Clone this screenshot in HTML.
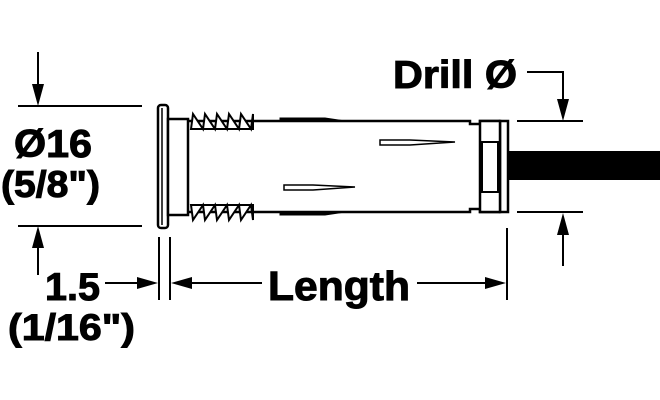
<!DOCTYPE html>
<html><head><style>body{margin:0;background:#fff}svg{display:block}</style></head>
<body>
<svg width="660" height="400" viewBox="0 0 660 400" xmlns="http://www.w3.org/2000/svg">
<g stroke="#000" fill="none" stroke-width="2">
<line x1="18" y1="106" x2="142" y2="106"/>
<line x1="18" y1="226" x2="142" y2="226"/>
<line x1="38" y1="52" x2="38" y2="85"/>
<line x1="38" y1="248" x2="38" y2="275"/>
<line x1="517" y1="121" x2="583" y2="121"/>
<line x1="517" y1="212" x2="583" y2="212"/>
<polyline points="527,72 563,72 563,100"/>
<line x1="563" y1="235" x2="563" y2="266"/>
<line x1="159" y1="237" x2="159" y2="300"/>
<line x1="170" y1="237" x2="170" y2="300"/>
<line x1="507" y1="228" x2="507" y2="300"/>
<line x1="105" y1="283" x2="140" y2="283"/>
<line x1="192" y1="283" x2="262" y2="283"/>
<line x1="417" y1="283" x2="485" y2="283"/>
</g>
<g fill="#000">
<polygon points="32,84 44,84 38,106"/>
<polygon points="32,248 44,248 38,226"/>
<polygon points="557,99 569,99 563,121"/>
<polygon points="557,235 569,235 563,213"/>
<polygon points="137,277 137,289 158,283"/>
<polygon points="192,277 192,289 171,283"/>
<polygon points="485,277 485,289 506,283"/>
<rect x="508" y="151" width="152" height="29"/>
</g>
<g stroke="#000" stroke-width="2.5" fill="#fff">
<rect x="158" y="105" width="10" height="123" rx="3"/>
<line x1="162" y1="108" x2="162" y2="225" stroke-width="1.5"/>
<rect x="168" y="119" width="20" height="96"/>
<path d="M188 121 H470 V124 H480 V121 H500 M188 212 H470 V209 H480 V212 H500" fill="none"/>
<rect x="500" y="121" width="8" height="91"/>
<rect x="480" y="121" width="20" height="91"/>
<rect x="482" y="142" width="16" height="50" stroke-width="2"/>
<path d="M280 118 L325 118 L345 121 L280 121 Z" fill="#000" stroke-width="1"/>
<path d="M280 215 L325 215 L345 212 L280 212 Z" fill="#000" stroke-width="1"/>
<path d="M191 129 L193 114 L203 129 L205 114 L215 129 L217 114 L227 129 L229 114 L239 129 L241 114 L251 129 L253 114 V129 Z" stroke-width="2"/>
<path d="M191 205 L193 220 L203 205 L205 220 L215 205 L217 220 L227 205 L229 220 L239 205 L241 220 L251 205 L253 220 V205 Z" stroke-width="2"/>
<path d="M380 140 H410 L455 142 L410 145 H380 Z" stroke-width="1.5"/>
<path d="M284 185 H313 L355 187 L313 190 H284 Z" stroke-width="1.5"/>
</g>
<g font-family="Liberation Sans, sans-serif" font-weight="bold" fill="#000" stroke="#000" stroke-width="1">
<text x="14" y="157" font-size="39" textLength="78" lengthAdjust="spacingAndGlyphs">Ø16</text>
<text x="1" y="197" font-size="37" textLength="99" lengthAdjust="spacingAndGlyphs">(5/8")</text>
<text x="393" y="88" font-size="39" textLength="124" lengthAdjust="spacingAndGlyphs">Drill Ø</text>
<text x="45" y="300" font-size="39" textLength="55" lengthAdjust="spacingAndGlyphs">1.5</text>
<text x="8" y="340" font-size="37" textLength="127" lengthAdjust="spacingAndGlyphs">(1/16")</text>
<text x="268" y="300" font-size="41" textLength="142" lengthAdjust="spacingAndGlyphs">Length</text>
</g>
</svg>
</body></html>
